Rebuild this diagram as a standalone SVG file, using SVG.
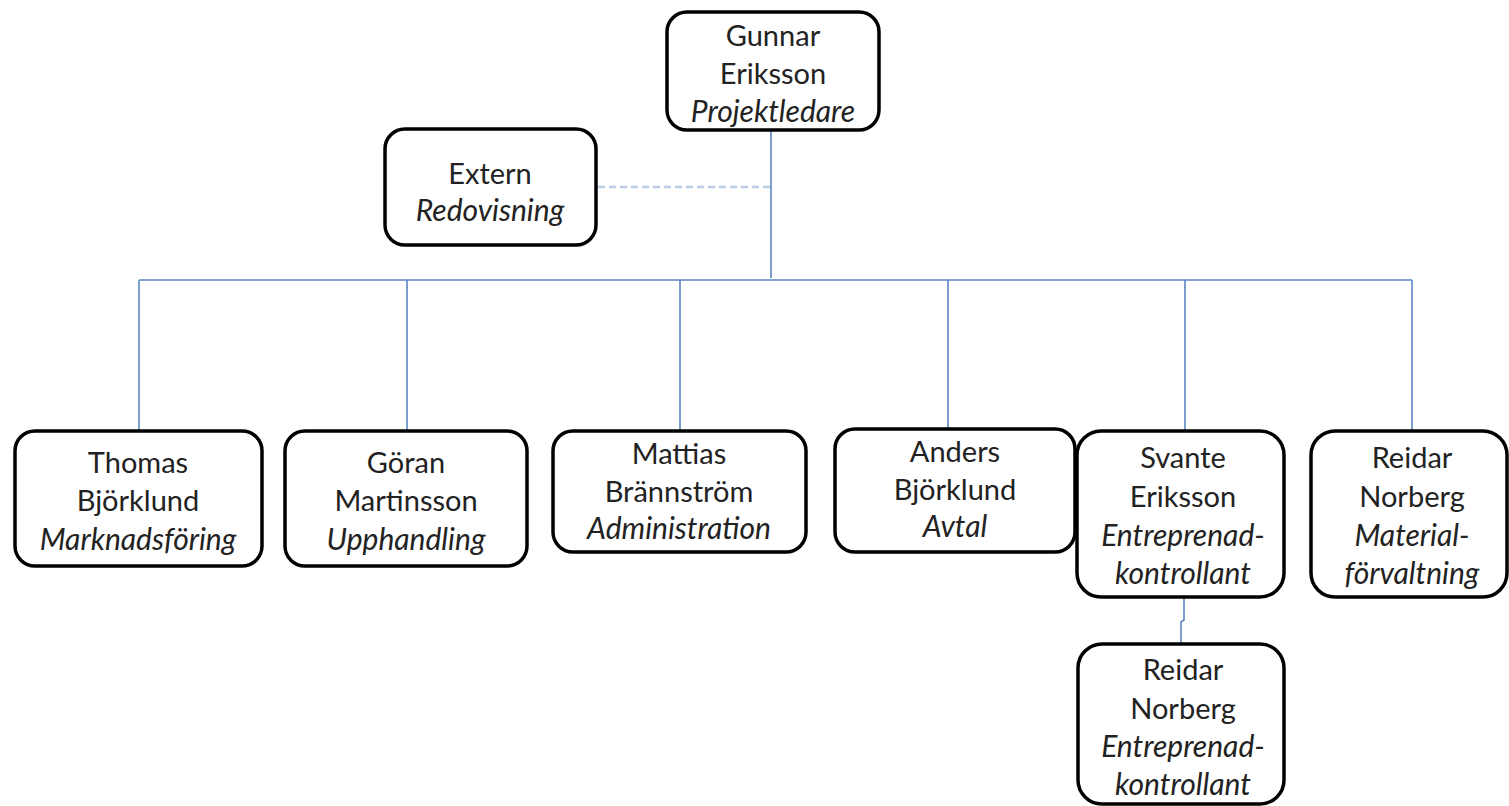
<svg xmlns="http://www.w3.org/2000/svg" width="1509" height="806" viewBox="0 0 1509 806">
<style>
.box{fill:#fff;stroke:#000;stroke-width:3.5}
text{font-family:Lato,"Open Sans",sans-serif;font-size:29px;fill:#222;text-anchor:middle}
.i{font-style:italic;font-size:30px}
.ln{stroke:#5a86c3;stroke-width:1.6;fill:none}
.dash{stroke:#b9cde6;stroke-width:2.5;stroke-dasharray:7,4;fill:none}
</style>
<rect width="1509" height="806" fill="#fff"/>
<g id="connectors">
<line class="dash" x1="598" y1="187" x2="771" y2="187"/>
<polyline class="ln" points="771,130 771,278"/>
<line class="ln" x1="139" y1="280" x2="1412" y2="280"/>
<line class="ln" x1="139" y1="280" x2="139" y2="431"/>
<line class="ln" x1="407" y1="280" x2="407" y2="431"/>
<line class="ln" x1="680" y1="280" x2="680" y2="431"/>
<line class="ln" x1="948" y1="280" x2="948" y2="429"/>
<line class="ln" x1="1185" y1="280" x2="1185" y2="431"/>
<line class="ln" x1="1412" y1="280" x2="1412" y2="431"/>
<polyline class="ln" points="1184,597 1184,620 1181,622 1181,644"/>
</g>
<g id="n-gunnar"><rect class="box" x="667" y="12" width="212" height="118" rx="20"/>
<text x="773" y="46">Gunnar</text><text x="773" y="84">Eriksson</text><text class="i" x="773" y="122">Projektledare</text></g>
<g id="n-extern"><rect class="box" x="385" y="129" width="211" height="116" rx="20"/>
<text x="490" y="184">Extern</text><text class="i" x="490" y="221">Redovisning</text></g>
<g id="n-thomas"><rect class="box" x="15" y="431" width="247" height="135" rx="20"/>
<text x="138" y="473">Thomas</text><text x="138" y="511">Björklund</text><text class="i" x="138" y="550">Marknadsföring</text></g>
<g id="n-goran"><rect class="box" x="285" y="431" width="242" height="135" rx="20"/>
<text x="406" y="473">Göran</text><text x="406" y="511">Martinsson</text><text class="i" x="406" y="550">Upphandling</text></g>
<g id="n-mattias"><rect class="box" x="553" y="431" width="253" height="121" rx="20"/>
<text x="679" y="464">Mattias</text><text x="679" y="502">Brännström</text><text class="i" x="679" y="539">Administration</text></g>
<g id="n-anders"><rect class="box" x="835" y="429" width="240" height="123" rx="20"/>
<text x="955" y="462">Anders</text><text x="955" y="500">Björklund</text><text class="i" x="955" y="537">Avtal</text></g>
<g id="n-svante"><rect class="box" x="1077" y="431" width="207" height="166" rx="24"/>
<text x="1183" y="468">Svante</text><text x="1183" y="507">Eriksson</text><text class="i" x="1183" y="546">Entreprenad-</text><text class="i" x="1183" y="584">kontrollant</text></g>
<g id="n-reidar1"><rect class="box" x="1311" y="431" width="196" height="166" rx="24"/>
<text x="1412" y="468">Reidar</text><text x="1412" y="507">Norberg</text><text class="i" x="1412" y="546">Material-</text><text class="i" x="1412" y="584">förvaltning</text></g>
<g id="n-reidar2"><rect class="box" x="1078" y="644" width="206" height="160" rx="24"/>
<text x="1183" y="680">Reidar</text><text x="1183" y="719">Norberg</text><text class="i" x="1183" y="757">Entreprenad-</text><text class="i" x="1183" y="795">kontrollant</text></g>
</svg>
